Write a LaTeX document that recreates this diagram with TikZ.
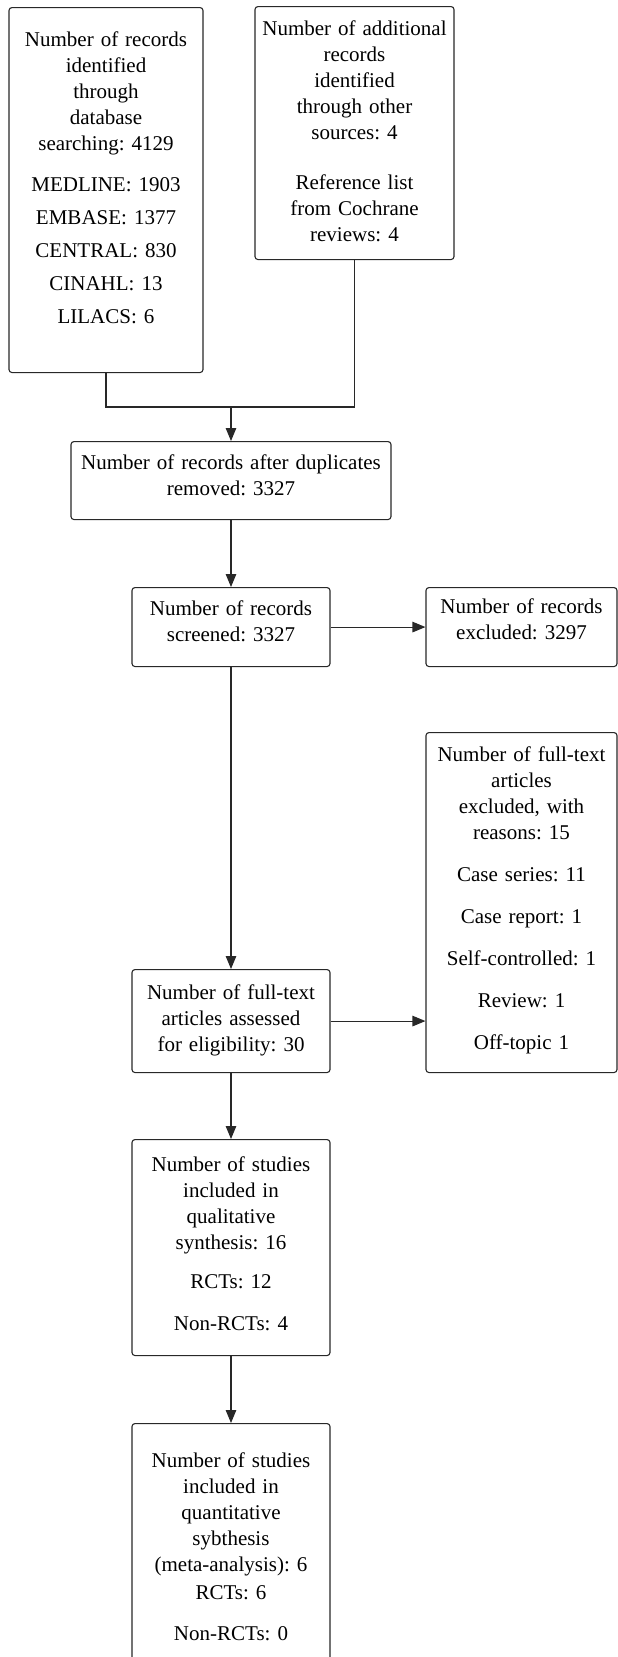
\documentclass[tikz,border=0pt]{standalone}
\usepackage{fontspec}
\setmainfont{Liberation Serif}
\frenchspacing
\usetikzlibrary{arrows.meta, positioning, calc}
\definecolor{boxline}{RGB}{40, 40, 40}

\begin{document}
\begin{tikzpicture}[
  x=1pt, y=-1pt,
  box/.style={draw=boxline, line width=1.1pt, rounded corners=3pt, inner sep=0pt, align=center, anchor=north, font=\fontsize{21}{26}\selectfont},
  arrow/.style={-{Triangle[length=13pt, width=10.5pt]}, line width=1.1pt, draw=boxline}
]
  \useasboundingbox (0, 0) rectangle (618, 1657);
  \clip (0, 0) rectangle (618, 1657);

  % Identification
  \node[box, text width=194pt, text height=39pt, text depth=326pt] (db) at (106, 7) {Number of records\\identified\\through\\database\\searching: 4129\\[15pt]MEDLINE: 1903\\[7pt]EMBASE: 1377\\[7pt]CENTRAL: 830\\[7pt]CINAHL: 13\\[7pt]LILACS: 6};

  \node[box, text width=199pt, text height=29pt, text depth=224pt] (other) at (354.5, 6) {Number of additional\\records\\identified\\through other\\sources: 4\\[24pt]Reference list\\from Cochrane\\reviews: 4};

  % Screening
  \node[box, text width=320pt, text height=28pt, text depth=50pt] (dup) at (231, 441) {Number of records after duplicates\\removed: 3327};

  \node[box, text width=198pt, text height=28pt, text depth=51pt] (scr) at (231, 587) {Number of records\\screened: 3327};

  \node[box, text width=191pt, text height=26pt, text depth=53pt] (excl) at (521.5, 587) {Number of records\\excluded: 3297};

  % Eligibility
  \node[box, text width=191pt, text height=29pt, text depth=311pt] (ftexcl) at (521.5, 732) {Number of full-text\\articles\\excluded, with\\reasons: 15\\[16pt]Case series: 11\\[16pt]Case report: 1\\[16pt]Self-controlled: 1\\[16pt]Review: 1\\[16pt]Off-topic 1};

  \node[box, text width=198pt, text height=30pt, text depth=73pt] (elig) at (231, 969) {Number of full-text\\articles assessed\\for eligibility: 30};

  % Included
  \node[box, text width=198pt, text height=32pt, text depth=184pt] (qual) at (231, 1139) {Number of studies\\included in\\qualitative\\synthesis: 16\\[13pt]RCTs: 12\\[16pt]Non-RCTs: 4};

  \node[box, text width=198pt, text height=44pt, text depth=209pt] (quant) at (231, 1423) {Number of studies\\included in\\quantitative\\sybthesis\\(meta-analysis): 6\\[2pt]RCTs: 6\\[15pt]Non-RCTs: 0};

  % Connectors
  \coordinate (mrg) at (231, 407);
  \draw[boxline, line width=1.1pt] (db.south) |- (mrg) -| (other.south);
  \draw[arrow] (mrg) -- (dup);
  \draw[arrow] (dup) -- (scr);
  \draw[arrow] (scr) -- (excl);
  \draw[arrow] (scr) -- (elig);
  \draw[arrow] (elig.east) -- (elig.east -| ftexcl.west);
  \draw[arrow] (elig) -- (qual);
  \draw[arrow] (qual) -- (quant);
\end{tikzpicture}
\end{document}
